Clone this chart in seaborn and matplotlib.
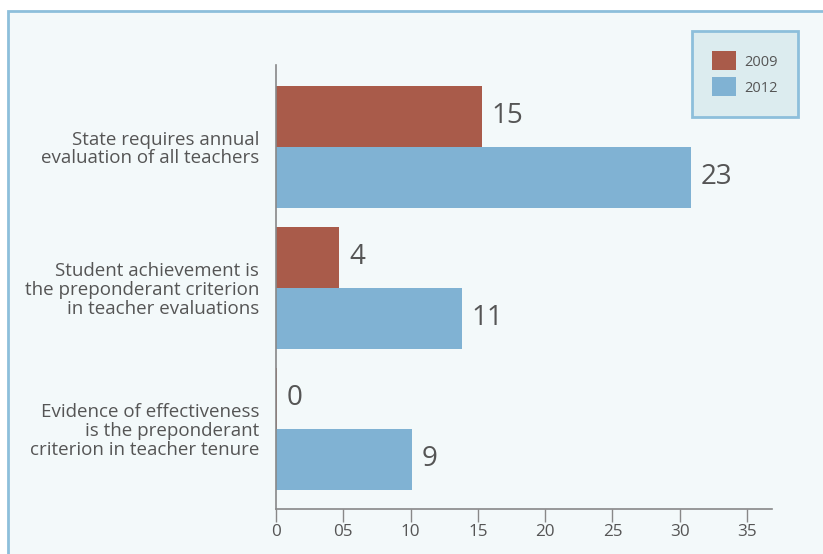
import matplotlib
matplotlib.use("Agg")
import matplotlib.pyplot as plt
from matplotlib.patches import Rectangle
import seaborn as sns
import pandas as pd

# ---- data ----
categories = [
    "State requires annual\nevaluation of all teachers",
    "Student achievement is\nthe preponderant criterion\nin teacher evaluations",
    "Evidence of effectiveness\nis the preponderant\ncriterion in teacher tenure",
]
years = ["2009", "2012"]
bars_2009 = [15.3, 4.7, 0.1]      # bar lengths as drawn against the axis
bars_2012 = [30.8, 13.8, 10.1]
labels_2009 = ["15", "4", "0"]    # value labels as printed
labels_2012 = ["23", "11", "9"]
xticks = [0, 5, 10, 15, 20, 25, 30, 35]
xtick_labels = ["0", "05", "10", "15", "20", "25", "30", "35"]

df = pd.DataFrame({
    "category": categories * 2,
    "year": [years[0]] * 3 + [years[1]] * 3,
    "value": bars_2009 + bars_2012,
})

sns.set_theme(style="white")
plt.rcParams["font.family"] = ["Open Sans", "DejaVu Sans"]

TEXT = "#555555"
RED = "#a95b4a"
BLUE = "#80b2d3"

W, H = 823, 554
fig = plt.figure(figsize=(W / 100, H / 100), dpi=100, facecolor="white")

# panel background with border (top and left edges visible)
fig.patches.append(Rectangle((8 / W, -0.05), 1.2, 1 - 11 / H + 0.05,
                             transform=fig.transFigure, facecolor="#f3f9fa",
                             edgecolor="#8dbfdb", linewidth=2, zorder=-5))

ax = fig.add_axes([276 / W, 1 - 509 / H, (772 - 276) / W, (509 - 65) / H])
ax.set_facecolor("none")
ax.set_zorder(2)

sns.barplot(data=df, y="category", x="value", hue="year", order=categories,
            hue_order=years, palette=[RED, BLUE], orient="h", width=0.866,
            dodge=True, linewidth=0, saturation=1, ax=ax, legend=False)

for cont, labs in zip(ax.containers, [labels_2009, labels_2012]):
    ax.bar_label(cont, labels=labs, padding=7, fontsize=20, color=TEXT)

ax.set_xlim(0, 36.85)
ax.set_ylim(2.57, -0.58)
ax.set_xticks(xticks)
ax.set_xticklabels(xtick_labels)
ax.set_xlabel("")
ax.set_ylabel("")
ax.tick_params(axis="x", length=9, width=1, color="#888888", labelsize=12.3,
               labelcolor=TEXT, pad=2, bottom=True, direction="out")
ax.tick_params(axis="y", length=0, pad=12, labelsize=13.5, labelcolor=TEXT)
for t in ax.get_yticklabels():
    t.set_multialignment("right")
    t.set_linespacing(1.05)

for s in ["top", "right"]:
    ax.spines[s].set_visible(False)
for s in ["left", "bottom"]:
    ax.spines[s].set_color("#888888")
    ax.spines[s].set_linewidth(1.2)

handles = [Rectangle((0, 0), 1, 1, facecolor=RED, edgecolor="none"),
           Rectangle((0, 0), 1, 1, facecolor=BLUE, edgecolor="none")]
leg = fig.legend(handles, years, loc="upper left",
                 bbox_to_anchor=(692 / W, 1 - 31 / H), fontsize=10.5,
                 frameon=True, fancybox=False, borderpad=1.4,
                 handlelength=1.6, handleheight=1.6, handletextpad=0.55,
                 labelspacing=0.5, borderaxespad=0)
leg.set_zorder(5)
frame = leg.get_frame()
frame.set_facecolor("#dcecef")
frame.set_edgecolor("#8dbfdb")
frame.set_linewidth(2)
frame.set_alpha(1)
for t in leg.get_texts():
    t.set_color(TEXT)

fig.savefig("out.png", dpi=100, facecolor="white")
